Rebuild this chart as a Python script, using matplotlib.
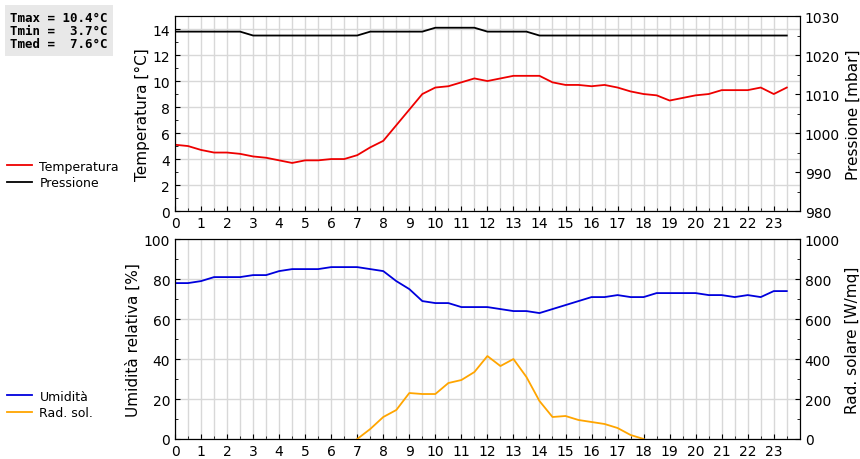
import numpy as np
import matplotlib
matplotlib.use("Agg")
import matplotlib.pyplot as plt
from matplotlib.ticker import MultipleLocator

hours = [i*0.5 for i in range(48)]
temp = [5.1,5.0,4.7,4.5,4.5,4.4,4.2,4.1,3.9,3.7,3.9,3.9,4.0,4.0,4.3,4.9,5.4,6.6,7.8,9.0,9.5,9.6,9.9,10.2,
        10.0,10.2,10.4,10.4,10.4,9.9,9.7,9.7,9.6,9.7,9.5,9.2,9.0,8.9,8.5,8.7,8.9,9.0,9.3,9.3,9.3,9.5,9.0,9.5]
press = [1026]*6 + [1025]*9 + [1026]*5 + [1027]*4 + [1026]*4 + [1025]*20
hum = [78,78,79,81,81,81,82,82,84,85,85,85,86,86,86,85,84,79,75,69,68,68,66,66,
       66,65,64,64,63,65,67,69,71,71,72,71,71,73,73,73,73,72,72,71,72,71,74,74]
rad = [np.nan]*14 + [0,50,110,145,230,225,225,280,295,335,415,365,400,310,190,110,115,95,85,75,55,20,0] + [np.nan]*11

fig = plt.figure(figsize=(8.6,4.6), dpi=100)
ax1 = fig.add_axes([0.2035,0.539,0.7265,0.424])
ax2 = fig.add_axes([0.2035,0.0435,0.7265,0.4345])

def style(ax):
    ax.set_xlim(0,24)
    ax.set_xticks(range(24))
    ax.xaxis.set_minor_locator(MultipleLocator(0.5))
    ax.grid(True, which='both', axis='x', color='#d8d8d8', lw=1)
    ax.grid(True, which='major', axis='y', color='#d8d8d8', lw=1)
    ax.tick_params(which='both', direction='in', labelsize=10, top=False)
    ax.set_axisbelow(True)

style(ax1); style(ax2)
l1, = ax1.plot(hours, temp, color='#ee0000', lw=1.3, label='Temperatura')
ax1.set_ylim(0,15); ax1.set_yticks(range(0,15,2)); ax1.yaxis.set_minor_locator(MultipleLocator(1))
ax1.set_ylabel('Temperatura [°C]', fontsize=11, labelpad=2)
ax1b = ax1.twinx()
l2, = ax1b.plot(hours, press, color='black', lw=1.3, label='Pressione')
ax1b.set_ylim(980,1030); ax1b.set_yticks(range(980,1031,10)); ax1b.yaxis.set_minor_locator(MultipleLocator(5))
ax1b.tick_params(which='both', direction='in', labelsize=10)
ax1b.set_ylabel('Pressione [mbar]', fontsize=11)
fig.legend(handles=[l1,l2], loc='upper left', bbox_to_anchor=(-0.005,0.675), frameon=False, fontsize=9,
           handlelength=2.0, handletextpad=0.6, labelspacing=0.3)

l3, = ax2.plot(hours, hum, color='#0000dd', lw=1.3, label='Umidità')
ax2.set_ylim(0,100); ax2.set_yticks(range(0,101,20)); ax2.yaxis.set_minor_locator(MultipleLocator(10))
ax2.set_ylabel('Umidità relativa [%]', fontsize=11, labelpad=2)
ax2b = ax2.twinx()
l4, = ax2b.plot(hours, rad, color='orange', lw=1.3, label='Rad. sol.')
ax2b.set_ylim(0,1000); ax2b.set_yticks(range(0,1001,200)); ax2b.yaxis.set_minor_locator(MultipleLocator(100))
ax2b.tick_params(which='both', direction='in', labelsize=10)
ax2b.set_ylabel('Rad. solare [W/mq]', fontsize=11)
fig.legend(handles=[l3,l4], loc='upper left', bbox_to_anchor=(-0.005,0.175), frameon=False, fontsize=9,
           handlelength=2.0, handletextpad=0.6, labelspacing=0.3)

fig.text(0.012, 0.975, "Tmax = 10.4°C\nTmin =  3.7°C\nTmed =  7.6°C", family='DejaVu Sans Mono',
         fontsize=9, fontweight='bold', va='top', linespacing=1.05,
         bbox=dict(facecolor='#e8e8e8', edgecolor='none', pad=4))
fig.savefig('out.png', dpi=100)
